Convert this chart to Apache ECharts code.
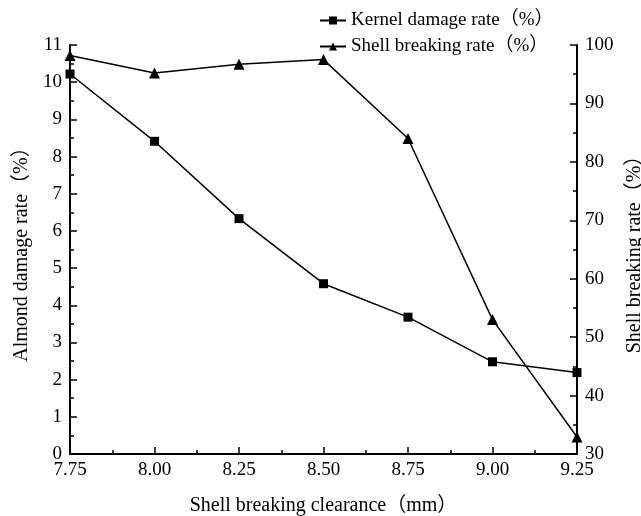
<!DOCTYPE html>
<html>
<head>
<meta charset="utf-8">
<script src="https://cdn.jsdelivr.net/npm/echarts@6/dist/echarts.min.js"></script>
<style>
  html, body { margin: 0; padding: 0; background: #fff; }
  #main { width: 641px; height: 516px; }
</style>
</head>
<body>
<div id="main"></div>
<script>
// data
const clearance = [7.75, 8.00, 8.25, 8.50, 8.75, 9.00, 9.25];
const kernelDamage = [10.22, 8.41, 6.33, 4.58, 3.68, 2.48, 2.19];
const shellBreaking = [98.2, 95.2, 96.7, 97.5, 84.0, 53.0, 32.9];

const font = "'Liberation Serif', 'Noto Sans CJK SC', serif";

function pairs(xs, ys) {
  return xs.map(function (x, i) { return [x, ys[i]]; });
}

const axisLine = { show: true, lineStyle: { color: '#000', width: 2 } };
const axisTick = { show: true, inside: true, length: 7, lineStyle: { color: '#000', width: 1.5 } };
const minorTick = { show: true, splitNumber: 2, length: 4, lineStyle: { color: '#000', width: 1.5 } };
const labelStyle = { color: '#000', fontFamily: font, fontSize: 19 };

let chart = echarts.init(document.getElementById('main'));
let option = {
  animation: false,
  backgroundColor: '#fff',
  grid: { left: 70, right: 64, top: 45, bottom: 62, outerBoundsMode: 'none' },
  legend: {
    orient: 'vertical',
    left: 314,
    top: 6,
    itemWidth: 26,
    itemHeight: 10,
    itemGap: 7,
    textStyle: { color: '#000', fontFamily: font, fontSize: 19 },
    data: ['Kernel damage rate（%）', 'Shell breaking rate（%）']
  },
  xAxis: {
    type: 'value',
    min: 7.75,
    max: 9.25,
    interval: 0.25,
    name: 'Shell breaking clearance（mm）',
    nameLocation: 'middle',
    nameGap: 42,
    nameTextStyle: { color: '#000', fontFamily: font, fontSize: 20 },
    axisLine: axisLine,
    axisTick: axisTick,
    minorTick: minorTick,
    splitLine: { show: false },
    axisLabel: Object.assign({ margin: 7, formatter: function (v) { return v.toFixed(2); } }, labelStyle)
  },
  yAxis: [{
    type: 'value',
    position: 'left',
    min: 0,
    max: 11,
    interval: 1,
    name: 'Almond damage rate（%）',
    nameLocation: 'middle',
    nameGap: 37,
    nameTextStyle: { color: '#000', fontFamily: font, fontSize: 20 },
    axisLine: axisLine,
    axisTick: axisTick,
    minorTick: minorTick,
    splitLine: { show: false },
    axisLabel: Object.assign({ margin: 8 }, labelStyle)
  }, {
    type: 'value',
    position: 'right',
    min: 30,
    max: 100,
    interval: 10,
    name: 'Shell breaking rate（%）',
    nameLocation: 'middle',
    nameGap: 46,
    nameTextStyle: { color: '#000', fontFamily: font, fontSize: 20 },
    axisLine: axisLine,
    axisTick: axisTick,
    minorTick: minorTick,
    splitLine: { show: false },
    axisLabel: Object.assign({ margin: 8 }, labelStyle)
  }],
  series: [{
    name: 'Kernel damage rate（%）',
    type: 'line',
    yAxisIndex: 0,
    data: pairs(clearance, kernelDamage),
    symbol: 'rect',
    symbolSize: 9,
    lineStyle: { color: '#000', width: 1.5 },
    itemStyle: { color: '#000' }
  }, {
    name: 'Shell breaking rate（%）',
    type: 'line',
    yAxisIndex: 1,
    data: pairs(clearance, shellBreaking),
    symbol: 'triangle',
    symbolSize: 11,
    lineStyle: { color: '#000', width: 1.5 },
    itemStyle: { color: '#000' }
  }]
};
chart.setOption(option);
</script>
</body>
</html>
